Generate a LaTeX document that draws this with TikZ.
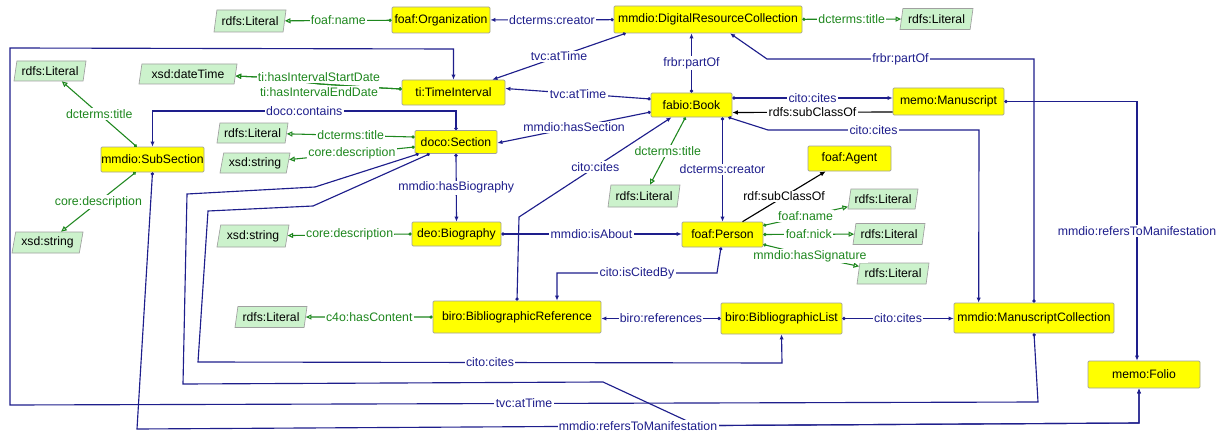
\documentclass[tikz,border=0pt]{standalone}
\usepackage{fontspec}
\setmainfont{Liberation Sans}
\usetikzlibrary{arrows.meta,shapes.geometric,calc}
\definecolor{opc}{RGB}{30,30,140}
\definecolor{dpc}{RGB}{30,135,30}
\definecolor{litfill}{RGB}{204,242,204}
\definecolor{clsfill}{RGB}{255,255,0}
\definecolor{rimgray}{RGB}{160,160,160}
\begin{document}
\begin{tikzpicture}[x=0.75pt,y=-0.75pt,
  font=\fontsize{9.15}{10}\selectfont,
  cls/.style 2 args={draw=rimgray, fill=clsfill, rounded corners=0.8pt, inner sep=0pt,
    minimum width=#1*0.75pt, minimum height=#2*0.75pt, line width=0.5pt},
  lit/.style 2 args={trapezium, trapezium left angle=72, trapezium right angle=108,
    trapezium stretches body=true, draw=rimgray, fill=litfill, inner sep=0pt,
    minimum width=#1*0.75pt, minimum height=#2*0.75pt, line width=0.5pt},
  op/.style={draw=opc, line width=0.85pt, arrows={Circle[length=2.4pt]-Latex[length=3.8pt,width=3.2pt]}},
  dp/.style={draw=dpc, line width=0.8pt, arrows={Circle[open,length=2.4pt]-Triangle[open,length=4.2pt,width=3.8pt]}},
  sc/.style={draw=black, line width=0.85pt, arrows={-Latex[length=4.2pt,width=3.6pt]}},
  ol/.style={fill=white, inner sep=1pt, text=opc, font=\fontsize{9.25}{10}\selectfont},
  dl/.style={fill=white, inner sep=1pt, text=dpc, font=\fontsize{9.25}{10}\selectfont},
  sl/.style={fill=white, inner sep=1pt, text=black, font=\fontsize{9.25}{10}\selectfont},
]
\useasboundingbox (0,0) rectangle (1231,435);
\fill[white] (0,0) rectangle (1231,435);

% classes
\node[cls={98}{26}]  (org)    at (441,20)      {foaf:Organization};
\node[cls={188}{27}] (drc)    at (708,19.5)    {mmdio:DigitalResourceCollection};
\node[cls={103}{25}] (ti)     at (453.5,92.5)  {ti:TimeInterval};
\node[cls={81}{24}]  (book)   at (691.5,105)   {fabio:Book};
\node[cls={111}{27}] (manu)   at (948.5,101.5) {memo:Manuscript};
\node[cls={103}{25}] (subsec) at (152.5,159.5) {mmdio:SubSection};
\node[cls={82}{23}]  (sect)   at (456,142)     {doco:Section};
\node[cls={89}{24}]  (bio)    at (456.5,234)   {deo:Biography};
\node[cls={81}{25}]  (person) at (722.5,234.5) {foaf:Person};
\node[cls={83}{25}]  (agent)  at (849.5,158.5) {foaf:Agent};
\node[cls={168}{32}] (bref)   at (517,317)     {biro:BibliographicReference};
\node[cls={121}{31}] (blist)  at (781.5,318.5) {biro:BibliographicList};
\node[cls={160}{30}] (mcoll)  at (1034,318)    {mmdio:ManuscriptCollection};
\node[cls={112}{27}] (folio)  at (1144,374.5)  {memo:Folio};

% literals
\node[lit={72}{22}] (litOrg)  at (250,21)     {rdfs:Literal};
\node[lit={73}{21}] (litDrc)  at (936.5,19)   {rdfs:Literal};
\node[lit={98}{20}] (dateT)   at (188,74)     {xsd:dateTime};
\node[lit={72}{20}] (litSub)  at (50,71)      {rdfs:Literal};
\node[lit={71}{21}] (strSub)  at (47.5,242.5) {xsd:string};
\node[lit={71}{20}] (litSec)  at (252.5,133)  {rdfs:Literal};
\node[lit={70}{20}] (strSec)  at (255,163)    {xsd:string};
\node[lit={72}{22}] (strBio)  at (253,236)    {xsd:string};
\node[lit={72}{22}] (litBook) at (644,196)    {rdfs:Literal};
\node[lit={70}{20}] (litName) at (883,199)    {rdfs:Literal};
\node[lit={72}{21}] (litNick) at (889,234)    {rdfs:Literal};
\node[lit={72}{21}] (litSig)  at (893,273.5)  {rdfs:Literal};
\node[lit={72}{21}] (litBref) at (271,317)    {rdfs:Literal};

% datatype properties
\draw[dp] (org) -- node[dl]{foaf:name} (litOrg);
\draw[dp] (drc) -- node[dl]{dcterms:title} (litDrc);
\draw[dp] ($(book.south)+(-6,0)$) -- node[dl]{dcterms:title} (litBook);
\draw[dp] (bio.west) -- node[dl]{core:description} (strBio);
\draw[dp] ($(sect.west)+(0,-5)$) -- node[dl]{dcterms:title} (litSec);
\draw[dp] ($(sect.west)+(0,5)$) -- node[dl]{core:description} (strSec);
\draw[dp] ($(subsec.north west)+(36,0)$) -- node[dl]{dcterms:title} (litSub);
\draw[dp] ($(subsec.south west)+(35,0)$) -- node[dl]{core:description} (strSub);
\draw[dp] ($(ti.west)+(0,-3.5)$) -- (382,88) -- (320,84) -- (258,77) -- (dateT);
\draw[dp] ($(ti.west)+(0,-3.5)$) -- (382,88) -- (320,84) -- (258,77) -- (dateT);
\node[dl] (lStart) at (319,77) {ti:hasIntervalStartDate};
\node[dl] (lEnd)   at (319,92) {ti:hasIntervalEndDate};
\draw[dp] ($(person.east)+(0,-9)$) -- node[dl]{foaf:name} (litName);
\draw[dp] (person.east) -- node[dl]{foaf:nick} (litNick);
\draw[dp] ($(person.east)+(0,10)$) -- (810,256) node[dl]{mmdio:hasSignature} -- (litSig);
\draw[dp] (bref.west) -- node[dl]{c4o:hasContent} (litBref);

% subclass links
\draw[sc] ($(manu.west)+(0,10.5)$) -- node[sl]{rdfs:subClassOf} ($(book.east)+(0,7.5)$);
\draw[sc] ($(person.north)+(20,0)$) -- node[sl]{rdf:subClassOf} ($(agent.south west)+(18,0)$);

% object properties
\draw[op] (drc) -- node[ol]{dcterms:creator} (org);
\draw[op] ($(drc.south west)+(12,0)$) -- node[ol]{tvc:atTime} ($(ti.north east)+(-13,0)$);
\draw[op] (book.north) -- node[ol]{frbr:partOf} (book.north |- drc.south);
\draw[op] (mcoll.north) -- (1034,59) -- node[ol]{frbr:partOf} (767,59) -- ($(drc.south)+(22,0)$);
\draw[op] ($(book.west)+(0,-6)$) -- node[ol]{tvc:atTime} ($(ti.east)+(0,-4)$);
\draw[op] ($(book.west)+(0,7)$) -- node[ol]{mmdio:hasSection} ($(sect.east)+(0,1)$);
\draw[op] ($(book.east)+(0,-7)$) -- node[ol]{cito:cites} ($(manu.west)+(0,-3.5)$);
\draw[op] ($(book.south east)+(-4,0)$) -- (768,130) -- node[ol]{cito:cites} (979,130) -- ($(mcoll.north west)+(25,0)$);
\draw[op] (book.south -| person.north) -- node[ol]{dcterms:creator} (person.north);
\draw[op] (bref.north) -- (519,217) -- node[ol]{cito:cites} ($(book.south)+(-20,0)$);
\draw[op] ($(person.south)+(-1.5,0)$) -- (717,273) -- node[ol]{cito:isCitedBy} (557,273) -- ($(bref.north)+(40,0)$);
\draw[op] (blist.west) -- node[ol]{biro:references} (blist.west -| bref.east);
\draw[op] (blist.east) -- node[ol]{cito:cites} (blist.east -| mcoll.west);
\draw[op] ($(sect.south west)+(15,0)$) -- (313,206) -- (208,211) -- (198,362) -- node[ol]{cito:cites} (782,363) -- (blist.south);
\draw[op] ($(sect.south west)+(4,0)$) -- (315,187) -- (187,194) -- (183,384) -- (603,382) -- (697,425.6) -- (1139,423) -- ($(folio.south)+(-5,0)$);
\draw[op] (subsec.south) -- (137,429) -- node[ol]{mmdio:refersToManifestation} (1139,423) -- ($(folio.south)+(-5,0)$);
\draw[op] (mcoll.south) -- (1038,402) -- node[ol]{tvc:atTime} (10,405) -- (10,48) -- (453.5,49) -- (ti.north);
\draw[op] (sect.north) -- (456,111) -- node[ol]{doco:contains} (152.5,111) -- (subsec.north);
\draw[op] (sect.south) -- node[ol]{mmdio:hasBiography} (bio.north);
\draw[op] (bio.east) -- node[ol]{mmdio:isAbout} (bio.east -| person.west);
\draw[op] (manu.east) -- (1137,101.5) -- node[ol]{mmdio:refersToManifestation} ($(folio.north)+(-7,0)$);
\end{tikzpicture}
\end{document}
